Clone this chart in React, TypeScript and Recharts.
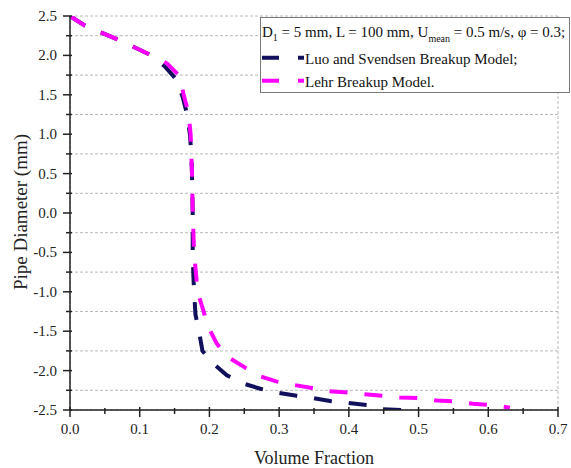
import React from 'react';
import { LineChart, Line, XAxis, YAxis, CartesianGrid, Legend } from 'recharts';

// Luo and Svendsen Breakup Model
const luoX = [0, 0.021, 0.045, 0.069, 0.093, 0.117, 0.136, 0.153, 0.162, 0.168, 0.172, 0.174, 0.175, 0.176, 0.176, 0.177, 0.178, 0.18, 0.185, 0.19, 0.204, 0.225, 0.247, 0.273, 0.297, 0.325, 0.349, 0.375, 0.399, 0.428, 0.449, 0.478, 0.497];
const luoY = [2.5, 2.38, 2.29, 2.2, 2.1, 2.0, 1.86, 1.69, 1.46, 1.25, 1.0, 0.75, 0.5, 0, -0.5, -0.8, -1.0, -1.29, -1.5, -1.75, -1.9, -2.06, -2.16, -2.23, -2.28, -2.32, -2.35, -2.39, -2.41, -2.44, -2.49, -2.5, -2.5];

// Lehr Breakup Model
const lehrX = [0, 0.021, 0.045, 0.069, 0.093, 0.117, 0.139, 0.158, 0.163, 0.17, 0.173, 0.175, 0.176, 0.178, 0.181, 0.183, 0.191, 0.198, 0.21, 0.225, 0.249, 0.268, 0.297, 0.32, 0.347, 0.371, 0.399, 0.423, 0.449, 0.473, 0.502, 0.526, 0.552, 0.578, 0.605, 0.631];
const lehrY = [2.5, 2.38, 2.29, 2.2, 2.1, 2.0, 1.9, 1.73, 1.5, 1.27, 1.0, 0.5, 0, -0.5, -0.8, -1.0, -1.23, -1.44, -1.65, -1.82, -1.95, -2.06, -2.14, -2.18, -2.22, -2.26, -2.28, -2.3, -2.32, -2.34, -2.35, -2.38, -2.39, -2.42, -2.44, -2.47];

const xTicks = [0, 0.05, 0.1, 0.15, 0.2, 0.25, 0.3, 0.35, 0.4, 0.45, 0.5, 0.55, 0.6, 0.65, 0.7];
const yTicks = [-2.5, -2.25, -2, -1.75, -1.5, -1.25, -1, -0.75, -0.5, -0.25, 0, 0.25, 0.5, 0.75, 1, 1.25, 1.5, 1.75, 2, 2.25, 2.5];
const xGrid = [0.05, 0.1, 0.15, 0.2, 0.25, 0.3, 0.35, 0.4, 0.45, 0.5, 0.55, 0.6, 0.65];
const yGrid = [-2.25, -2, -1.75, -1.5, -1.25, -1, -0.75, -0.5, -0.25, 0, 0.25, 0.5, 0.75, 1, 1.25, 1.5, 1.75, 2, 2.25];

const seriesNames = ['Luo and Svendsen Breakup Model;', 'Lehr Breakup Model.'];
const seriesColors = ['#10105c', '#ff00ff'];
const xTitle = 'Volume Fraction';
const yTitle = 'Pipe Diameter (mm)';

const toPoints = (xs: number[], ys: number[]) => xs.map((x, i) => ({ x, y: ys[i] }));
const luoData = toPoints(luoX, luoY);
const lehrData = toPoints(lehrX, lehrY);

const FONT = '"Liberation Serif", "Times New Roman", serif';
const AXIS = '#222';

const isMajor = (v: number, per: number) => Math.abs(v * per - Math.round(v * per)) < 1e-6;

const XTick = (props: any) => {
  const { x, y, payload } = props;
  const v = payload.value as number;
  const major = isMajor(v, 10);
  return (
    <g>
      <line x1={x} x2={x} y1={major ? y - 3 : y - 2} y2={major ? y + 7 : y + 4} stroke={AXIS} strokeWidth={1.5} />
      {major && (
        <text x={x} y={y + 24} textAnchor="middle" fontFamily={FONT} fontSize={15} fill="#222">
          {v.toFixed(1)}
        </text>
      )}
    </g>
  );
};

const YTick = (props: any) => {
  const { x, y, payload } = props;
  const v = payload.value as number;
  const major = isMajor(v, 2);
  return (
    <g>
      <line y1={y} y2={y} x1={major ? x - 7 : x - 4} x2={x + 2} stroke={AXIS} strokeWidth={1.5} />
      {major && (
        <text x={x - 13} y={y + 5} textAnchor="end" fontFamily={FONT} fontSize={15} fill="#222">
          {v.toFixed(1)}
        </text>
      )}
    </g>
  );
};

const LegendBox = () => (
  <div style={{ width: 310, height: 76, boxSizing: 'border-box', border: '1px solid #7a7a7a', background: '#fff' }}>
    <svg width={308} height={74} style={{ display: 'block' }}>
      <text x={1} y={18.5} fontFamily={FONT} fontSize={15} fill="#111">
        D<tspan fontSize={10} dy={4}>1</tspan>
        <tspan dy={-4}> = 5 mm, L = 100 mm, U</tspan>
        <tspan fontSize={10} dy={5}>mean</tspan>
        <tspan dy={-5}> = 0.5 m/s, φ = 0.3;</tspan>
      </text>
      {seriesNames.map((name, i) => (
        <g key={name}>
          <line x1={1} x2={43} y1={39.7 + i * 23} y2={39.7 + i * 23} stroke={seriesColors[i]} strokeWidth={4} strokeDasharray="17 19" />
          <text x={44} y={46 + i * 23} fontFamily={FONT} fontSize={15} fill="#111">
            {name}
          </text>
        </g>
      ))}
    </svg>
  </div>
);

const YTitle = (props: any) => {
  const vb = props.viewBox || { x: 0, y: 16, width: 70, height: 394 };
  const cx = 27;
  const cy = vb.y + vb.height / 2 - 1;
  return (
    <text x={cx} y={cy} textAnchor="middle" transform={`rotate(-90, ${cx}, ${cy})`} fontFamily={FONT} fontSize={19} fill="#222">
      {yTitle}
    </text>
  );
};

const XTitle = (props: any) => {
  const vb = props.viewBox || { x: 70, y: 410, width: 488, height: 58 };
  return (
    <text x={vb.x + vb.width / 2} y={464} textAnchor="middle" fontFamily={FONT} fontSize={18} fill="#222">
      {xTitle}
    </text>
  );
};

export default function App() {
  return (
    <div style={{ position: 'absolute', left: 0, top: 0, width: 571, height: 468, background: '#fff' }}>
      <LineChart width={571} height={468} margin={{ top: 16, right: 13, bottom: 0, left: 0 }}>
        <XAxis xAxisId="grid" type="number" domain={[0, 0.7]} ticks={xGrid} hide height={0} allowDataOverflow />
        <YAxis yAxisId="grid" type="number" domain={[-2.5, 2.5]} ticks={yGrid} hide width={0} allowDataOverflow />
        <CartesianGrid xAxisId="grid" yAxisId="grid" stroke="#b8b8b8" strokeDasharray="3 2" strokeWidth={1} />
        <XAxis
          xAxisId="main"
          dataKey="x"
          type="number"
          domain={[0, 0.7]}
          ticks={xTicks}
          interval={0}
          allowDataOverflow
          height={58}
          tickSize={0}
          tickMargin={0}
          tickLine={false}
          tick={<XTick />}
          axisLine={{ stroke: AXIS, strokeWidth: 1.5 }}
          label={<XTitle />}
        />
        <YAxis
          yAxisId="main"
          type="number"
          domain={[-2.5, 2.5]}
          ticks={yTicks}
          interval={0}
          allowDataOverflow
          width={70}
          tickSize={0}
          tickMargin={0}
          tickLine={false}
          tick={<YTick />}
          axisLine={{ stroke: AXIS, strokeWidth: 1.5 }}
          label={<YTitle />}
        />
        <Legend
          layout="horizontal"
          verticalAlign="middle"
          align="center"
          wrapperStyle={{ position: 'absolute', left: 260, top: 17, width: 310, height: 76 }}
          content={<LegendBox />}
        />
        <Line
          xAxisId="main"
          yAxisId="main"
          data={luoData}
          dataKey="y"
          name={seriesNames[0]}
          type="linear"
          stroke={seriesColors[0]}
          strokeWidth={4}
          strokeDasharray="18 17"
          dot={false}
          activeDot={false}
          isAnimationActive={false}
        />
        <Line
          xAxisId="main"
          yAxisId="main"
          data={lehrData}
          dataKey="y"
          name={seriesNames[1]}
          type="linear"
          stroke={seriesColors[1]}
          strokeWidth={4}
          strokeDasharray="18 17"
          dot={false}
          activeDot={false}
          isAnimationActive={false}
        />
      </LineChart>
    </div>
  );
}
